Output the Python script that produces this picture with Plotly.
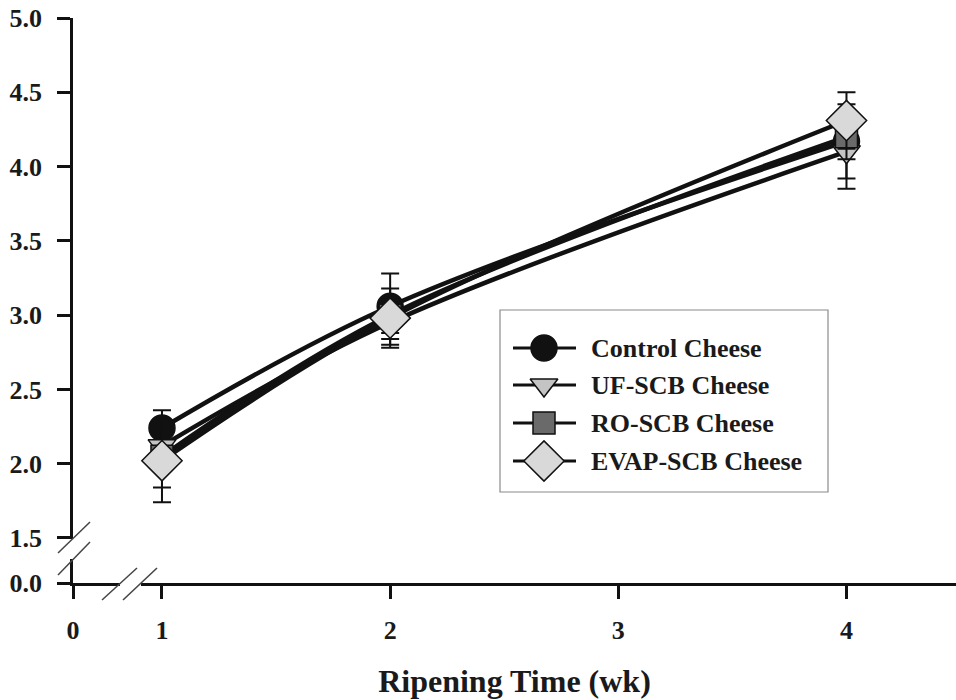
import plotly.graph_objects as go

# Ripening time (weeks) and mean scores with standard deviations
weeks = [1, 2, 4]
series_names = ["Control Cheese", "UF-SCB Cheese", "RO-SCB Cheese", "EVAP-SCB Cheese"]
control = [2.24, 3.06, 4.17]
control_sd = [0.12, 0.22, 0.25]
uf_scb = [2.12, 2.95, 4.10]
uf_scb_sd = [0.10, 0.15, 0.25]
ro_scb = [2.05, 3.00, 4.20]
ro_scb_sd = [0.21, 0.12, 0.15]
evap_scb = [2.02, 2.98, 4.31]
evap_scb_sd = [0.28, 0.20, 0.19]

y_tick_labels = ["0.0", "1.5", "2.0", "2.5", "3.0", "3.5", "4.0", "4.5", "5.0"]
x_tick_labels = ["0", "1", "2", "3", "4"]

# Broken axes: the origin is drawn close to the first shown value
Y_ZERO_POS = 1.197
X_ZERO_POS = 0.61
y_tick_vals = [Y_ZERO_POS] + [float(t) for t in y_tick_labels[1:]]
x_tick_vals = [X_ZERO_POS] + [float(t) for t in x_tick_labels[1:]]

FONT = "Liberation Serif"
W, H = 956, 700
ML, MR, MT, MB = 73, 0, 18, 117
PW, PH = W - ML - MR, H - MT - MB


def px(x):
    return (x - ML) / PW


def py(y):
    return (H - MB - y) / PH


styles = [
    dict(symbol="circle", size=26, color="#111111"),
    dict(symbol="triangle-down", size=24, color="#c4c4c4"),
    dict(symbol="square", size=22, color="#6a6a6a"),
    dict(symbol="diamond", size=31, color="#d9d9d9"),
]
values = [control, uf_scb, ro_scb, evap_scb]
sds = [control_sd, uf_scb_sd, ro_scb_sd, evap_scb_sd]

fig = go.Figure()
for name, vals, sd, st in zip(series_names, values, sds, styles):
    fig.add_trace(go.Scatter(
        x=weeks, y=vals, name=name, mode="lines+markers",
        line=dict(color="#111111", width=4.5, shape="spline", smoothing=1.0),
        marker=dict(symbol=st["symbol"], size=st["size"], color=st["color"],
                    line=dict(color="#111111", width=1.5)),
        error_y=dict(type="data", array=sd, visible=True, color="#111111",
                     thickness=2, width=9),
        showlegend=False,
    ))

# Legend drawn on an overlay axis spanning the plot area
leg_rows = [348, 385, 423, 461]
for name, st, yr in zip(series_names, styles, leg_rows):
    fig.add_shape(type="line", xref="paper", yref="paper",
                  x0=px(513), x1=px(576), y0=py(yr), y1=py(yr),
                  line=dict(color="#111111", width=3), layer="below")
    fig.add_trace(go.Scatter(
        x=[px(544)], y=[py(yr)], xaxis="x2", yaxis="y2", mode="markers",
        marker=dict(symbol=st["symbol"], size=st["size"], color=st["color"],
                    line=dict(color="#111111", width=1.5)),
        showlegend=False, hoverinfo="skip",
    ))
    fig.add_annotation(x=px(589), y=py(yr), xref="paper", yref="paper",
                       text=f"<b>{name}</b>", showarrow=False, xanchor="left",
                       yanchor="middle", font=dict(family=FONT, size=26, color="#1a1a1a"))

fig.add_shape(type="rect", xref="paper", yref="paper",
              x0=px(500), x1=px(828), y0=py(492), y1=py(310),
              line=dict(color="#8a8a8a", width=1.2), layer="below")

# Axis breaks: white gaps plus double slashes
fig.add_shape(type="rect", xref="paper", yref="paper",
              x0=px(69), x1=px(77), y0=py(559), y1=py(539),
              line=dict(width=0), fillcolor="white", layer="above")
fig.add_shape(type="rect", xref="paper", yref="paper",
              x0=px(120), x1=px(141), y0=py(587), y1=py(579),
              line=dict(width=0), fillcolor="white", layer="above")
for (x0, y0, x1, y1) in [(58, 553, 90, 522), (58, 575, 90, 542),
                         (102, 600, 137, 568), (123, 600, 157, 568)]:
    fig.add_shape(type="line", xref="paper", yref="paper",
                  x0=px(x0), y0=py(y0), x1=px(x1), y1=py(y1),
                  line=dict(color="#444444", width=1.5), layer="above")

axis_common = dict(showgrid=False, zeroline=False, showline=True,
                   linecolor="#111111", linewidth=2.5, ticks="outside",
                   ticklen=13, tickwidth=2.5, tickcolor="#111111",
                   tickfont=dict(family=FONT, size=26, color="#1a1a1a"))

fig.update_layout(
    width=W, height=H,
    margin=dict(l=ML, r=MR, t=MT, b=MB),
    paper_bgcolor="white", plot_bgcolor="white",
    xaxis=dict(range=[X_ZERO_POS, 4.48], tickmode="array", tickvals=x_tick_vals,
               ticktext=[f"<b>{t}</b>" for t in x_tick_labels],
               ticklabelstandoff=9,
               title=dict(text="<b>Ripening Time (wk)</b>", standoff=26,
                          font=dict(family=FONT, size=32, color="#1a1a1a")),
               **axis_common),
    yaxis=dict(range=[Y_ZERO_POS, 5.0], tickmode="array", tickvals=y_tick_vals,
               ticktext=[f"<b>{t}</b>" for t in y_tick_labels],
               ticklabelstandoff=10, **axis_common),
    xaxis2=dict(overlaying="x", range=[0, 1], visible=False, domain=[0, 1]),
    yaxis2=dict(overlaying="y", range=[0, 1], visible=False),
    showlegend=False,
)

fig.write_html("out.html")
